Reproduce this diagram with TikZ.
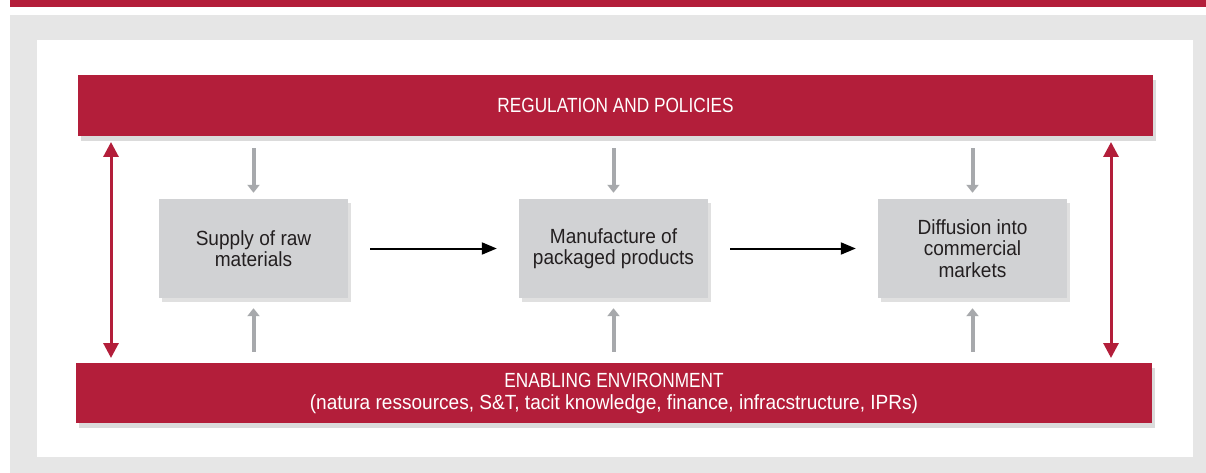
\documentclass[tikz,border=0pt]{standalone}
\usepackage{fontspec}
\setmainfont{Liberation Sans}[FakeStretch=0.84]
\newfontfamily\capsfont{Liberation Sans}[FakeStretch=0.84]
\newfontfamily\mixfont{Liberation Sans}[FakeStretch=0.93]
\usetikzlibrary{arrows.meta,shadows}
\definecolor{redbar}{HTML}{B31E3A}
\definecolor{boxgray}{HTML}{D1D2D4}
\definecolor{arrgray}{HTML}{A7A9AC}
\definecolor{panelgray}{HTML}{E6E6E6}
\definecolor{txt}{HTML}{231F20}
\begin{document}
\begin{tikzpicture}[x=1pt,y=-1pt,
  redbox/.style={fill=redbar, draw=none, inner sep=0pt, text=white, align=center,
    font=\fontsize{20.5}{22}\selectfont,
    drop shadow={shadow xshift=3pt, shadow yshift=-5pt, fill=black, opacity=0.14}},
  stagebox/.style={fill=boxgray, draw=none, inner sep=0pt, minimum width=189pt, minimum height=99pt,
    text=txt, align=center, font=\mixfont\fontsize{20.5}{21.5}\selectfont,
    drop shadow={shadow xshift=3pt, shadow yshift=-4pt, fill=black, opacity=0.12}},
  grayarrow/.style={draw=arrgray, line width=4pt, -{Triangle[width=12pt,length=8pt]}},
  redarrow/.style={draw=redbar, line width=3pt, {Triangle[width=15pt,length=15pt]}-{Triangle[width=15pt,length=15pt]}},
  blackarrow/.style={draw=black, line width=2pt, -{Triangle[width=12pt,length=15pt]}}
]
\useasboundingbox (0,0) rectangle (1206,473);
% page furniture
\fill[redbar] (10,0) rectangle (1206,7);
\fill[panelgray] (10,15) rectangle (1206,473);
\fill[white] (37,40) rectangle (1193,457);

% main boxes
\node[redbox, minimum width=1075pt, minimum height=61pt] (reg) at (615.5,105.5) {\capsfont REGULATION AND POLICIES};
\node[redbox, minimum width=1076pt, minimum height=60pt] (env) at (614,393)
  {{\capsfont ENABLING ENVIRONMENT}\\{\mixfont (natura ressources, S\&T, tacit knowledge, finance, infracstructure, IPRs)}};

\node[stagebox] (b1) at (253.5,248.5) {Supply of raw\\materials};
\node[stagebox] (b2) at (613.5,248.5) {Manufacture of\\packaged products};
\node[stagebox] (b3) at (972.5,248.5) {Diffusion into\\commercial\\markets};

% gray vertical arrows
\foreach \b in {b1,b2,b3}{
  \draw[grayarrow, shorten <=12pt, shorten >=6pt] (reg.south -| \b.north) -- (\b.north);
  \draw[grayarrow, shorten <=11pt, shorten >=10pt] (env.north -| \b.south) -- (\b.south);
}

% black horizontal arrows
\draw[blackarrow, shorten <=22pt, shorten >=22pt] (b1.east) -- (b2.west);
\draw[blackarrow, shorten <=22pt, shorten >=22pt] (b2.east) -- (b3.west);

% red double arrows
\coordinate (lt) at (111,136);
\coordinate (lb) at (111,363);
\coordinate (rt) at (1111,136);
\coordinate (rb) at (1111,363);
\draw[redarrow, shorten <=6pt, shorten >=5pt] (lt) -- (lb);
\draw[redarrow, shorten <=6pt, shorten >=5pt] (rt) -- (rb);
\end{tikzpicture}
\end{document}
